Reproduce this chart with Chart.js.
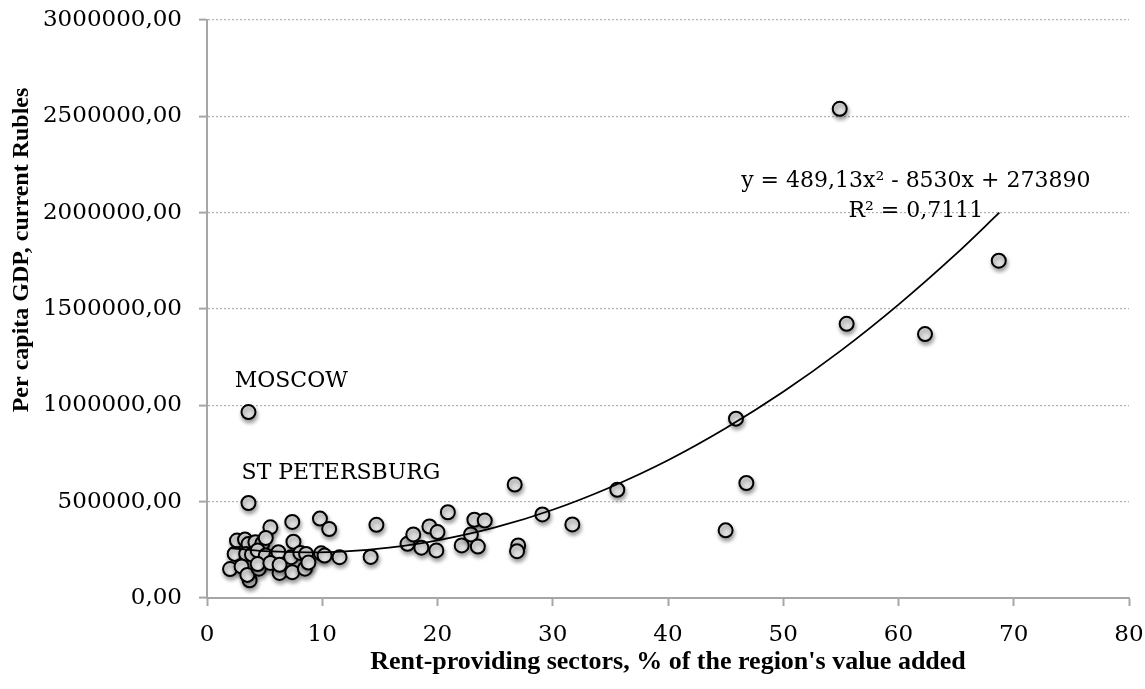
<!DOCTYPE html>
<html>
<head>
<meta charset="utf-8">
<script src="https://cdn.jsdelivr.net/npm/chart.js@4.4.1/dist/chart.umd.min.js"></script>
<style>
  html, body { margin: 0; padding: 0; background: #ffffff; }
  #wrap { width: 1145px; height: 689px; position: relative; }
</style>
</head>
<body>
<div id="wrap"><canvas id="c"></canvas></div>
<script>
// Rent-providing sectors, % of region's value added
const rentShare = [
  3.6, 3.6, 5.5, 7.4, 9.8, 10.6, 14.7,
  2.6, 3.3, 3.6, 4.2, 4.8, 5.1, 7.5,
  2.4, 3.4, 3.9, 4.4, 5.1, 6.0, 6.2, 7.3, 8.1, 8.6, 9.9, 10.2, 11.5, 14.2,
  2.0, 3.0, 3.7, 3.5, 4.5, 4.4, 5.5, 6.3, 6.3, 7.4, 8.5, 8.8,
  17.4, 17.9, 18.6, 19.3, 20.0, 19.9, 20.9, 22.1, 22.9, 23.2, 24.1, 23.5,
  26.7, 27.0, 26.9, 29.1, 31.7, 35.6,
  45.0, 45.9, 46.8, 54.9, 55.5, 62.3, 68.7
];
// Per capita GDP, current Rubles
const gdpPerCapita = [
  965000, 493000, 367000, 395000, 412000, 358000, 380000,
  298000, 303000, 280000, 290000, 283000, 312000, 292000,
  229000, 229000, 226000, 247000, 221000, 217000, 238000, 212000, 234000, 229000, 232000, 220000, 212000, 213000,
  150000, 164000, 92000, 120000, 152000, 176000, 182000, 130000, 172000, 134000, 152000, 184000,
  281000, 330000, 261000, 371000, 342000, 247000, 445000, 273000, 330000, 406000, 402000, 267000,
  589000, 273000, 243000, 434000, 382000, 562000,
  351000, 931000, 597000, 2539000, 1423000, 1370000, 1751000
];
// Polynomial trend line
const trendX = [2, 5, 8.7, 12, 16, 20, 25, 30, 35, 40, 45, 50, 55, 60, 65, 68.75];
const trendY = [259000, 243000, 237000, 242000, 263000, 299000, 366000, 458000, 575000, 715000, 881000, 1070000, 1284000, 1523000, 1786000, 2000000];

const xTicks = [0, 10, 20, 30, 40, 50, 60, 70, 80];
const yTicks = [0, 500000, 1000000, 1500000, 2000000, 2500000, 3000000];

const equationText = 'y = 489,13x\u00B2 - 8530x + 273890';
const r2Text = 'R\u00B2 = 0,7111';
const xTitle = "Rent-providing sectors, % of the region's value added";
const yTitle = 'Per capita GDP, current Rubles';
const labels = [
  { text: 'MOSCOW', x: 2.4, y: 1124000 },
  { text: 'ST PETERSBURG', x: 3.0, y: 646000 }
];

const tickFont = { family: 'DejaVu Serif', size: 23 };
const annFont = '22px "DejaVu Serif"';
const xTitleFont = 'bold 26px "Liberation Serif"';
const yTitleFont = 'bold 24px "Liberation Serif"';

const shadowPlugin = {
  id: 'pointShadow',
  beforeDatasetDraw(chart, args) {
    if (args.index !== 1) return;
    const ctx = chart.ctx;
    ctx.save();
    ctx.shadowColor = 'rgba(0,0,0,0.38)';
    ctx.shadowBlur = 4;
    ctx.shadowOffsetX = 1;
    ctx.shadowOffsetY = 3;
  },
  afterDatasetDraw(chart, args) {
    if (args.index !== 1) return;
    chart.ctx.restore();
  }
};

const textPlugin = {
  id: 'texts',
  afterDraw(chart) {
    const ctx = chart.ctx;
    const xs = chart.scales.x, ys = chart.scales.y;
    ctx.save();
    ctx.fillStyle = '#000';
    ctx.font = annFont;
    ctx.textBaseline = 'middle';
    ctx.textAlign = 'left';
    labels.forEach(l => {
      ctx.fillText(l.text, xs.getPixelForValue(l.x), ys.getPixelForValue(l.y));
    });
    ctx.textAlign = 'center';
    ctx.fillText(equationText, xs.getPixelForValue(61.5), ys.getPixelForValue(2162000));
    ctx.fillText(r2Text, xs.getPixelForValue(61.5), ys.getPixelForValue(2007000));
    // axis titles
    ctx.font = xTitleFont;
    ctx.textAlign = 'center';
    ctx.fillText(xTitle, (chart.chartArea.left + chart.chartArea.right) / 2, 662);
    ctx.font = yTitleFont;
    ctx.translate(22, 250);
    ctx.rotate(-Math.PI / 2);
    ctx.fillText(yTitle, 0, 0);
    ctx.restore();
  }
};

const fmt = v => String(Math.round(v)) + ',00';
const noOverflow = s => { s.paddingTop = 0; s.paddingBottom = 0; s.paddingLeft = 0; s.paddingRight = 0; };

new Chart(document.getElementById('c'), {
  type: 'scatter',
  data: {
    datasets: [
      {
        type: 'line',
        label: 'trend',
        data: trendX.map((x, i) => ({ x, y: trendY[i] })),
        borderColor: '#000',
        borderWidth: 1.8,
        pointRadius: 0,
        fill: false,
        cubicInterpolationMode: 'monotone',
        order: 0
      },
      {
        label: 'regions',
        data: rentShare.map((x, i) => ({ x, y: gdpPerCapita[i] })),
        backgroundColor: '#e0e0e0',
        borderColor: '#000',
        borderWidth: 2,
        pointRadius: 7,
        order: 1
      }
    ]
  },
  options: {
    responsive: true,
    maintainAspectRatio: false,
    animation: false,
    layout: { padding: { top: 20, right: 16, left: 0, bottom: 0 } },
    plugins: { legend: { display: false }, tooltip: { enabled: false } },
    scales: {
      x: {
        type: 'linear',
        min: 0, max: 80,
        afterBuildTicks: s => { s.ticks = xTicks.map(v => ({ value: v })); },
        afterFit: s => { s.height = 91; noOverflow(s); },
        ticks: { font: tickFont, color: '#000', padding: 15, maxRotation: 0 },
        grid: { display: true, drawOnChartArea: false, drawTicks: true, tickLength: 8, tickColor: '#a6a6a6', tickWidth: 2 },
        border: { display: true, color: '#a6a6a6', width: 2 }
      },
      y: {
        type: 'linear',
        min: 0, max: 3000000,
        afterBuildTicks: s => { s.ticks = yTicks.map(v => ({ value: v })); },
        afterFit: s => { s.width = 207; noOverflow(s); },
        ticks: { font: tickFont, color: '#000', padding: 17, callback: v => fmt(v) },
        grid: { display: true, drawOnChartArea: true, color: '#b0b0b0', lineWidth: 1.2, drawTicks: true, tickLength: 8, tickColor: '#a6a6a6', tickWidth: 2, tickBorderDash: [] },
        border: { display: true, color: '#a6a6a6', width: 2, dash: [2, 2] }
      }
    }
  },
  plugins: [shadowPlugin, textPlugin]
});
</script>
</body>
</html>
